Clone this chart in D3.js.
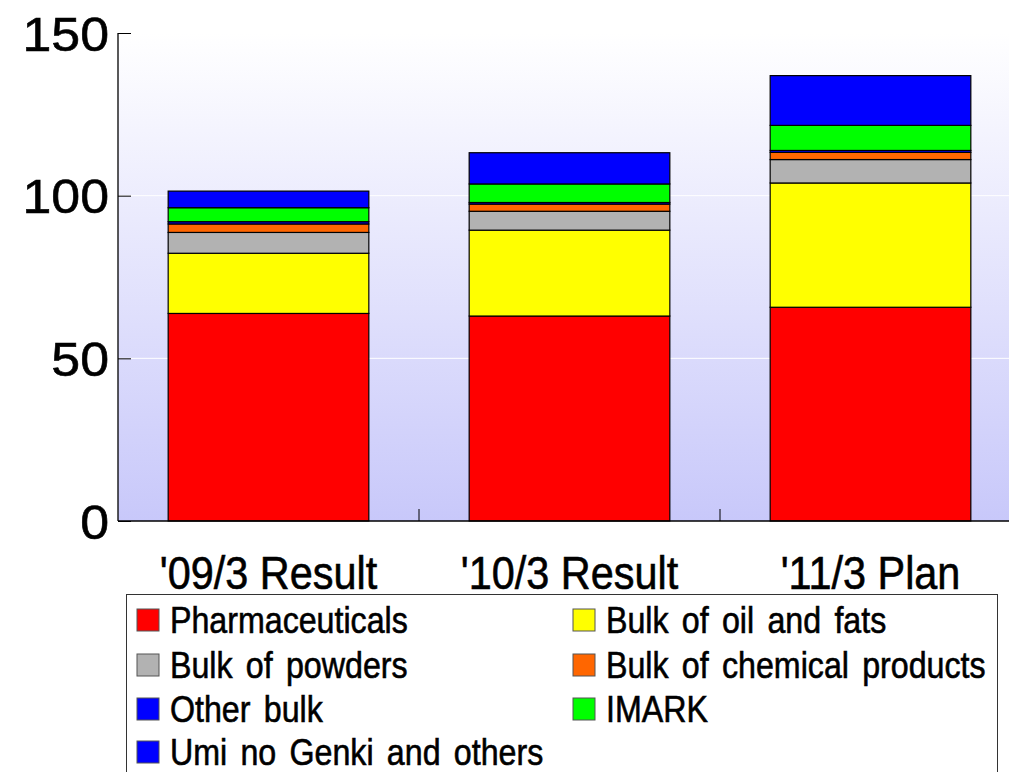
<!DOCTYPE html>
<html>
<head>
<meta charset="utf-8">
<script src="https://cdn.jsdelivr.net/npm/d3@7"></script>
<style>
  html, body { margin: 0; padding: 0; background: #ffffff; }
  svg { display: block; }
  text { font-family: "Liberation Sans", Arial, sans-serif; fill: #000; stroke: #000; stroke-width: 0.6px; }
</style>
</head>
<body>
<svg id="chart" width="1009" height="772"></svg>
<script>
// Sales by business segment (stacked), bottom to top
const categories = ["'09/3 Result", "'10/3 Result", "'11/3 Plan"];
const seriesNames = [
  "Pharmaceuticals",
  "Bulk of oil and fats",
  "Bulk of powders",
  "Bulk of chemical products",
  "Other bulk",
  "IMARK",
  "Umi no Genki and others"
];
const pharmaceuticals = [63.8, 63.0, 65.7];
const bulkOilFats     = [18.5, 26.4, 38.2];
const bulkPowders     = [6.4, 5.8, 7.2];
const bulkChemical    = [2.6, 2.2, 2.2];
const otherBulk       = [0.7, 0.5, 0.6];
const imark           = [4.3, 5.7, 7.7];
const umiNoGenki      = [5.1, 9.6, 15.3];
const yTicks = [0, 50, 100, 150];
const seriesColors = ["#ff0000", "#ffff00", "#b2b2b2", "#ff6600", "#0000ff", "#00ff00", "#0000ff"];

const seriesValues = [pharmaceuticals, bulkOilFats, bulkPowders, bulkChemical, otherBulk, imark, umiNoGenki];
const rows = categories.map((c, i) => {
  const r = { category: c };
  seriesNames.forEach((s, k) => { r[s] = seriesValues[k][i]; });
  return r;
});

const svg = d3.select("#chart");
const plot = { left: 118, top: 33, right: 1021, bottom: 521 };

const x = d3.scaleBand().domain(categories).range([plot.left, plot.right]).paddingInner(1/3).paddingOuter(1/6);
const y = d3.scaleLinear().domain([0, 150]).range([plot.bottom, plot.top]);

// plot-area background gradient
const defs = svg.append("defs");
const grad = defs.append("linearGradient").attr("id", "bg").attr("x1", 0).attr("y1", 0).attr("x2", 0).attr("y2", 1);
grad.append("stop").attr("offset", "0%").attr("stop-color", "#ffffff");
grad.append("stop").attr("offset", "100%").attr("stop-color", "#c8c8fa");

svg.append("rect")
  .attr("x", plot.left).attr("y", plot.top)
  .attr("width", plot.right - plot.left).attr("height", plot.bottom - plot.top)
  .attr("fill", "url(#bg)");

// white gridlines
svg.append("g").selectAll("line").data(yTicks.filter(t => t > 0 && t < 150)).join("line")
  .attr("x1", plot.left).attr("x2", plot.right)
  .attr("y1", d => y(d)).attr("y2", d => y(d))
  .attr("stroke", "#ffffff").attr("stroke-width", 1);

// stacked bars
const stack = d3.stack().keys(seriesNames)(rows);
svg.append("g").selectAll("g").data(stack).join("g")
  .attr("fill", (d, i) => seriesColors[i])
  .selectAll("rect").data(d => d).join("rect")
  .attr("x", d => x(d.data.category))
  .attr("width", x.bandwidth())
  .attr("y", d => y(d[1]))
  .attr("height", d => y(d[0]) - y(d[1]))
  .attr("stroke", "#000").attr("stroke-width", 1.2);

// y axis, ticks pointing inward
const yAxis = svg.append("g").attr("transform", `translate(${plot.left},0)`)
  .call(d3.axisRight(y).tickValues(yTicks).tickSize(13).tickFormat(""));
yAxis.select(".domain").attr("stroke", "#000").attr("stroke-width", 1.3).attr("d", `M0,${plot.top}V${plot.bottom}`);
yAxis.selectAll(".tick line").attr("stroke", "#000");

yAxis.selectAll(".tick").append("text")
  .attr("text-anchor", "end")
  .attr("font-size", 48)
  .attr("transform", "translate(-9,17) scale(1.08,1)")
  .text(d => d);

// x axis with category separators pointing up
const xAxis = svg.append("g").attr("transform", `translate(0,${plot.bottom})`);
xAxis.append("line").attr("x1", plot.left).attr("x2", plot.right).attr("stroke", "#000").attr("stroke-width", 1.5);
const step = x.step();
const seps = categories.slice(0, -1).map(c => x(c) + x.bandwidth() + (step - x.bandwidth()) / 2);
xAxis.selectAll(".sep").data(seps).join("line").attr("class", "sep")
  .attr("x1", d => d).attr("x2", d => d).attr("y1", 0).attr("y2", -12)
  .attr("stroke", "#000");

xAxis.selectAll(".cat").data(categories).join("text").attr("class", "cat")
  .attr("text-anchor", "middle")
  .attr("font-size", 46)
  .attr("transform", d => `translate(${x(d) + x.bandwidth() / 2},68) scale(0.9,1)`)
  .text(d => d);

// legend
const legend = svg.append("g");
legend.append("rect")
  .attr("x", 126.5).attr("y", 594.5).attr("width", 871).attr("height", 200)
  .attr("fill", "#ffffff").attr("stroke", "#333").attr("stroke-width", 1);

const colX = [137, 573];
const rowY = [620, 665, 709, 752];
const items = legend.selectAll(".item").data(seriesNames).join("g").attr("class", "item")
  .attr("transform", (d, i) => `translate(${colX[i % 2]},${rowY[Math.floor(i / 2)]})`);
items.append("rect")
  .attr("x", 0).attr("y", -11).attr("width", 22).attr("height", 22)
  .attr("fill", (d, i) => seriesColors[i]).attr("stroke", "#555").attr("stroke-width", 1);
items.append("text")
  .attr("font-size", 37)
  .attr("word-spacing", 5)
  .attr("transform", "translate(33,13) scale(0.87,1)")
  .text(d => d);
</script>
</body>
</html>
